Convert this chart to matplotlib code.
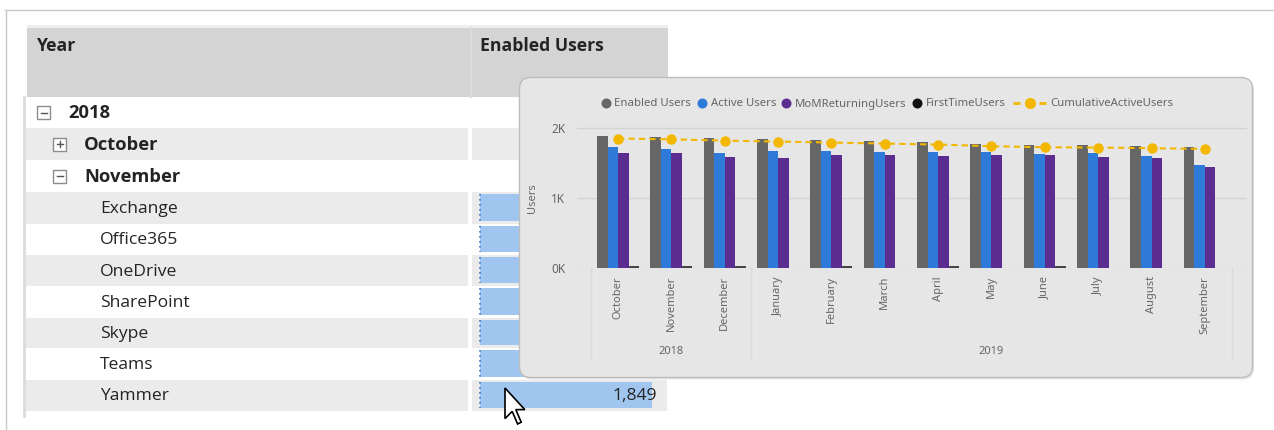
import matplotlib
matplotlib.use('Agg')
import matplotlib.pyplot as plt
import matplotlib.transforms as mtransforms
from matplotlib.patches import Rectangle, FancyBboxPatch, Polygon
import numpy as np

# ---------------- data ----------------
months = ['October', 'November', 'December', 'January', 'February', 'March',
          'April', 'May', 'June', 'July', 'August', 'September']
year_labels = ['2018', '2019']
year_month_counts = [3, 9]
series_names = ['Enabled Users', 'Active Users', 'MoMReturningUsers',
                'FirstTimeUsers', 'CumulativeActiveUsers']
enabled_users = [1888, 1871, 1857, 1840, 1830, 1821, 1806, 1778, 1763, 1763, 1749, 1735]
active_users = [1722, 1702, 1638, 1678, 1668, 1663, 1659, 1659, 1635, 1640, 1606, 1468]
mom_returning = [1640, 1645, 1592, 1578, 1611, 1611, 1606, 1611, 1611, 1592, 1578, 1449]
first_time = [25, 25, 25, 0, 25, 0, 25, 0, 25, 0, 0, 0]
cumulative_active = [1850, 1838, 1820, 1806, 1792, 1778, 1763, 1740, 1725, 1721, 1711, 1702]
y_ticks = [0, 1000, 2000]
y_tick_labels = ['0K', '1K', '2K']

table_headers = ['Year', 'Enabled Users']
table_year = '2018'
table_months = ['October', 'November']
table_apps = ['Exchange', 'Office365', 'OneDrive', 'SharePoint', 'Skype', 'Teams', 'Yammer']
table_app_enabled = [1849, 1849, 1849, 1849, 1849, 1849, 1849]

# ---------------- style ----------------
plt.rcParams['font.family'] = ['Noto Sans', 'DejaVu Sans']
TFONT = ['Open Sans', 'DejaVu Sans']
C_ENABLED = '#666666'
C_ACTIVE = '#2e7ad9'
C_MOM = '#5b2d90'
C_FIRST = '#111111'
C_CUM = '#f3b700'
series_colors = [C_ENABLED, C_ACTIVE, C_MOM, C_FIRST, C_CUM]
TXT = '#252423'
CH_TXT = '#666666'

W, H = 1274, 430
fig = plt.figure(figsize=(W / 100, H / 100), dpi=100)
fig.patch.set_facecolor('white')


def px_axes(z):
    a = fig.add_axes([0, 0, 1, 1], zorder=z)
    a.set_xlim(0, W)
    a.set_ylim(H, 0)
    a.axis('off')
    a.patch.set_alpha(0)
    return a


bg = px_axes(0)

# outer frame
bg.plot([5, W], [9.5, 9.5], color='#c8c8c8', lw=1)
bg.plot([5.5, 5.5], [9.5, H], color='#c8c8c8', lw=1)

# header
bg.add_patch(Rectangle((27, 25), 641, 3, color='#eeeeee', lw=0))
bg.add_patch(Rectangle((27, 28), 641, 69, color='#d4d4d4', lw=0))
bg.plot([470.5, 470.5], [28, 97], color='#dcdcdc', lw=1.5)
bg.text(36, 46, table_headers[0], fontsize=12.7, fontweight='bold', color=TXT,
        va='center', ha='left', family=TFONT)
bg.text(480, 46, table_headers[1], fontsize=12.7, fontweight='bold', color=TXT,
        va='center', ha='left', family=TFONT)

# rows
row_edges = [97, 128, 160, 192, 224, 255, 286, 318, 348, 380, 411]
rows = [(table_year, 0, 'minus'), (table_months[0], 1, 'plus'), (table_months[1], 1, 'minus')]
rows += [(a, 2, None) for a in table_apps]
bg.plot([24, 24], [97, 416], color='#dcdcdc', lw=2)
for i, (label, level, icon) in enumerate(rows):
    top, bot = row_edges[i], row_edges[i + 1]
    cy = (top + bot) / 2
    if i % 2 == 1:
        bg.add_patch(Rectangle((25, top), 443, bot - top, color='#ebebeb', lw=0))
        bg.add_patch(Rectangle((472, top), 195, bot - top, color='#ebebeb', lw=0))
    if level == 0:
        bx, tx, fs, fw = 37, 68, 13.2, 'bold'
    elif level == 1:
        bx, tx, fs, fw = 53, 84, 13.2, 'bold'
    else:
        bx, tx, fs, fw = None, 100, 12.6, 'normal'
    if bx is not None:
        bg.add_patch(Rectangle((bx, cy - 6.5), 13, 13, fc='white', ec='#8c8c8c', lw=1))
        bg.plot([bx + 3.5, bx + 9.5], [cy, cy], color='#555555', lw=1)
        if icon == 'plus':
            bg.plot([bx + 6.5, bx + 6.5], [cy - 3, cy + 3], color='#555555', lw=1)
    bg.text(tx, cy + 1, label, fontsize=fs, fontweight=fw, color=TXT, va='center', ha='left',
            family=TFONT)

# data bars of the table (own scale)
tb = fig.add_axes([480 / W, 0, 172 / W, 1], zorder=1)
tb.set_xlim(0, max(table_app_enabled))
tb.set_ylim(H, 0)
tb.axis('off')
tb.patch.set_alpha(0)
app_centers = []
for j in range(len(table_apps)):
    top, bot = row_edges[3 + j], row_edges[4 + j]
    app_centers.append((top + 2 + bot - 3) / 2)
bar_h = [row_edges[4 + j] - row_edges[3 + j] - 5 for j in range(len(table_apps))]
tb.barh(app_centers, table_app_enabled, height=bar_h, color='#a0c6ef', lw=0)
for c, h in zip(app_centers, bar_h):
    tb.plot([0, 0], [c - h / 2, c + h / 2], color='#3a78c9', lw=1.2, ls=(0, (1, 2)), clip_on=False)

# values (only those not hidden under the popup card)
CARD_X, CARD_Y, CARD_W, CARD_H = 519.5, 77.5, 733, 300
vt = px_axes(1.5)
for j, v in enumerate(table_app_enabled):
    cy = (row_edges[3 + j] + row_edges[4 + j]) / 2
    if cy - 8 > CARD_Y + CARD_H:
        vt.text(657, cy + 1, f'{v:,}', fontsize=12.6, color=TXT, ha='right', va='center', family=TFONT)

# ---------------- popup card ----------------
ov = px_axes(2)
ov.add_patch(FancyBboxPatch((CARD_X + 1.5, CARD_Y + 2), CARD_W, CARD_H,
                            boxstyle='round,pad=0,rounding_size=11',
                            fc='#d6d6d6', ec='none', alpha=0.6))
ov.add_patch(FancyBboxPatch((CARD_X, CARD_Y), CARD_W, CARD_H, boxstyle='round,pad=0,rounding_size=11',
                            fc='#e6e6e6', ec='#bdbdbd', lw=1))

# legend (flowing)
renderer = fig.canvas.get_renderer()
lx, ly = 605.7, 103
prev_end = lx
for k, name in enumerate(series_names):
    if k < 4:
        ov.plot([lx], [ly], 'o', ms=7.2, color=series_colors[k], mec='none')
        t = ov.text(lx + 8.8, ly + 3.5, name, fontsize=8.2, color=CH_TXT, va='baseline', ha='left')
    else:
        s0 = prev_end + 7
        cx = prev_end + 24
        ov.plot([s0, s0 + 7], [ly, ly], color=C_CUM, lw=2, solid_capstyle='butt')
        ov.plot([cx + 9, cx + 16], [ly, ly], color=C_CUM, lw=2, solid_capstyle='butt')
        ov.plot([cx], [ly], 'o', ms=8, color=C_CUM, mec='none')
        t = ov.text(prev_end + 44, ly + 3.5, name, fontsize=8.2, color=CH_TXT, va='baseline', ha='left')
    bb = t.get_window_extent(renderer)
    prev_end = bb.x1
    lx = bb.x1 + 10.5

# mouse cursor
tip = np.array([505.0, 388.0])
cur = np.array([(0, 0), (0, 17), (4, 13), (7, 20), (9, 19), (6, 12), (11, 12)]) * 1.8 + tip
ov.add_patch(Polygon(cur, closed=True, fc='white', ec='black', lw=1.2, zorder=10))

# ---------------- chart ----------------
ax_l, ax_r, ax_t, ax_b = 577, 1247, 120, 268
ax = fig.add_axes([ax_l / W, (H - ax_b) / H, (ax_r - ax_l) / W, (ax_b - ax_t) / H], zorder=3)
ax.patch.set_alpha(0)
for s in ax.spines.values():
    s.set_visible(False)
x = np.arange(len(months))
w = 0.197
ax.bar(x - 1.5 * w, enabled_users, w, color=C_ENABLED, lw=0, zorder=2)
ax.bar(x - 0.5 * w, active_users, w, color=C_ACTIVE, lw=0, zorder=2)
ax.bar(x + 0.5 * w, mom_returning, w, color=C_MOM, lw=0, zorder=2)
ax.bar(x + 1.5 * w, first_time, w, color=C_FIRST, lw=0, zorder=2, alpha=0.75)
ax.plot(x, cumulative_active, color=C_CUM, lw=1.5, ls=(0, (3, 2)), marker='o', ms=7.5,
        mec='none', zorder=4)
ax.set_xlim(-0.77, 11.79)
ax.set_ylim(0, 2000 * (ax_b - ax_t) / 140)
ax.set_yticks(y_ticks)
ax.set_yticklabels(y_tick_labels)
ax.yaxis.grid(True, color='#d3d3d3', lw=1)
ax.set_axisbelow(True)
ax.tick_params(axis='y', length=0, pad=8.6, labelsize=8.5, labelcolor=CH_TXT)
ax.set_xticks(x)
ax.set_xticklabels(months, rotation=90, va='top', ha='center')
ax.tick_params(axis='x', length=0, pad=5.8, labelsize=8, labelcolor=CH_TXT)
ax.set_ylabel('Users', fontsize=8, color=CH_TXT, va='center')
ax.yaxis.set_label_coords((533 - ax_l) / (ax_r - ax_l), (ax_b - 198) / (ax_b - ax_t))

# hierarchical year labels and separators
btr = mtransforms.blended_transform_factory(ax.transData, ax.transAxes)
span = ax_b - ax_t
start = 0
bounds = [-0.5]
for lab, cnt in zip(year_labels, year_month_counts):
    center = start + (cnt - 1) / 2
    ax.text(center, (ax_b - 352) / span, lab, transform=btr, fontsize=8, color=CH_TXT,
            ha='center', va='center')
    start += cnt
    bounds.append(start - 0.5)
for b in bounds:
    ax.plot([b, b], [0, (ax_b - 360) / span], transform=btr, color='#dadada', lw=1, clip_on=False)

fig.savefig('out.png', dpi=100, facecolor='white')
